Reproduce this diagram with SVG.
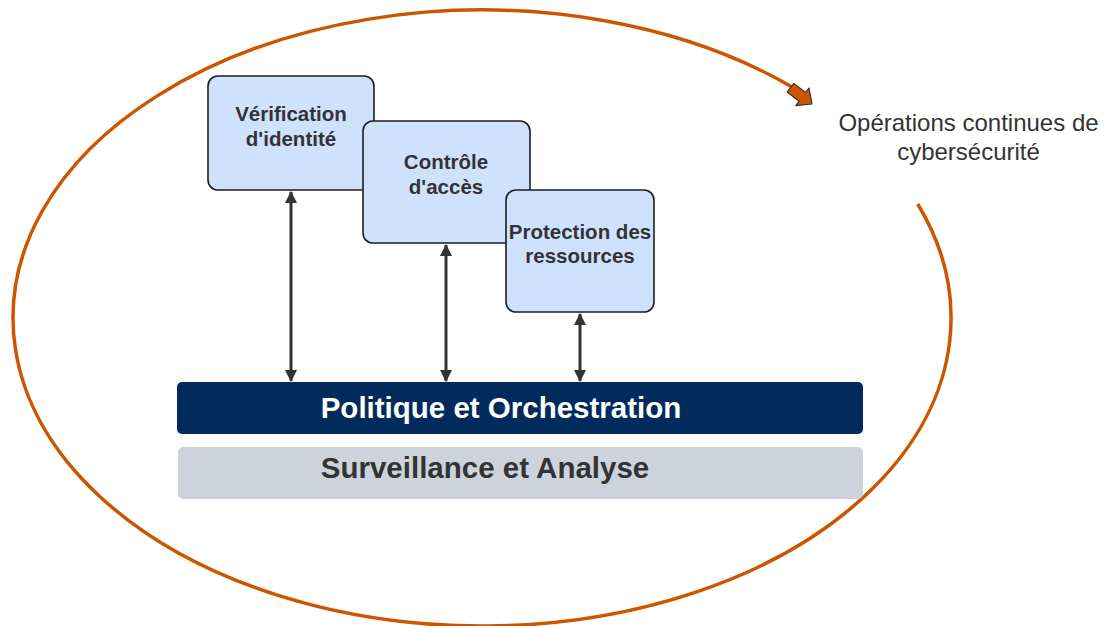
<svg xmlns="http://www.w3.org/2000/svg" width="1109" height="626" viewBox="0 0 1109 626">
<style>
.box{fill:#cfe2fd;stroke:#1e1e1e;stroke-width:1.6}
.lbl{font-family:"Liberation Sans",Arial,sans-serif;font-weight:bold;font-size:20.5px;fill:#333;text-anchor:middle}
.bar{font-family:"Liberation Sans",Arial,sans-serif;font-weight:bold;font-size:29.5px;text-anchor:middle}
.cap{font-family:"Liberation Sans",Arial,sans-serif;font-size:24px;fill:#333;text-anchor:middle}
.conn{stroke:#333;stroke-width:3;fill:none;marker-start:url(#ah);marker-end:url(#ah)}
</style>
<defs>
<marker id="ah" viewBox="0 0 12 12" refX="11" refY="6" markerWidth="12" markerHeight="12" markerUnits="userSpaceOnUse" orient="auto-start-reverse">
<path d="M0,0 L12,6 L0,12 Z" fill="#333"/>
</marker>
</defs>
<g id="cycle">
<path d="M 917.7 204 A 469 308 0 1 1 792 86.9" fill="none" stroke="#cc5500" stroke-width="3.5"/>
<polygon points="-27,-5.5 -12,-5.5 -12,-11 0,0 -12,11 -12,5.5 -27,5.5" transform="translate(812,104) rotate(37)" fill="#cc5500" stroke="#333" stroke-width="1.2" stroke-linejoin="round"/>
<text class="cap" x="968.5" y="131">Opérations continues de</text>
<text class="cap" x="968.5" y="160">cybersécurité</text>
</g>
<g id="surveillance">
<rect x="178" y="447" width="685" height="52" rx="5" fill="#cdd3dc"/>
<text class="bar" x="485" y="478" fill="#333">Surveillance et Analyse</text>
</g>
<g id="politique">
<rect x="177" y="382" width="686" height="52" rx="5" fill="#002b5c"/>
<text class="bar" x="501" y="418" fill="#ffffff">Politique et Orchestration</text>
</g>
<g id="verification">
<rect class="box" x="208" y="76" width="166" height="114" rx="10"/>
<text class="lbl" x="291" y="121">Vérification</text>
<text class="lbl" x="291" y="146">d'identité</text>
</g>
<g id="controle">
<rect class="box" x="363" y="121" width="167" height="122" rx="10"/>
<text class="lbl" x="446" y="169">Contrôle</text>
<text class="lbl" x="446" y="194">d'accès</text>
</g>
<g id="protection">
<rect class="box" x="506" y="190" width="148" height="122" rx="10"/>
<text class="lbl" x="580" y="239">Protection des</text>
<text class="lbl" x="580" y="263">ressources</text>
</g>
<g id="connectors">
<line class="conn" x1="291" y1="192" x2="291" y2="381"/>
<line class="conn" x1="446" y1="245" x2="446" y2="381"/>
<line class="conn" x1="580" y1="314" x2="580" y2="381"/>
</g>
</svg>
